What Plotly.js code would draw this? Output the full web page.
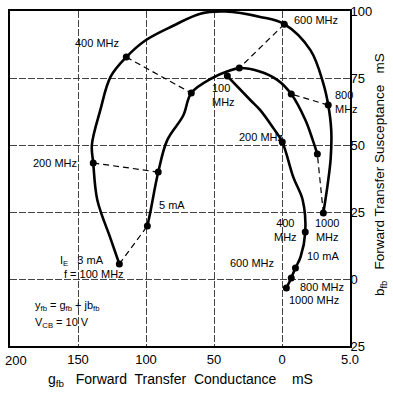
<!DOCTYPE html>
<html><head><meta charset="utf-8">
<script src="https://cdn.plot.ly/plotly-3.0.1.min.js"></script>
<style>html,body{margin:0;padding:0;background:#fff}#c{width:393px;height:393px}</style>
</head><body><div id="c"></div>
<script>
// Frequencies (MHz) of the marked points
const freqs = [100, 200, 400, 600, 800, 1000];
// Marked points, g_fb (mS) and b_fb (mS), for each emitter current
const g3 = [119.6, 138.8, 114.5, -1.7, -34.0, -30.4];
const b3 = [5.6, 43.3, 82.8, 95.1, 64.9, 24.6];
const g5 = [99.0, 91.0, 66.7, 31.4, -6.8, -26.0];
const b5 = [19.8, 39.9, 69.4, 78.7, 69.0, 46.6];
const g10 = [40.2, -0.2, -17.1, -9.9, -6.8, -3.2];
const b10 = [75.7, 51.1, 17.5, 4.1, 0.4, -3.4];
// Curve traces
const c3g = [119.6, 126, 135.8, 138.8, 139.8, 133.6, 126, 114.5, 100.5, 80, 60, 41.7, 16, -1.7, -20.9, -30.3, -34.0, -36.2, -35.8, -33.5, -30.4];
const c3b = [5.6, 15, 29.5, 43.3, 50, 63, 75.5, 82.8, 89, 94.5, 99, 99.8, 97.8, 95.1, 85.4, 73.1, 64.9, 55.6, 45, 35, 24.6];
const c5g = [99.0, 96.8, 91.0, 84.3, 72.6, 66.7, 51.2, 40, 31.4, 17, 3.5, -6.8, -17.2, -22.5, -26.0];
const c5b = [19.8, 25, 39.9, 51.9, 61, 69.4, 75, 77.5, 78.7, 77.5, 74.3, 69.0, 59.3, 52, 46.6];
const c10g = [40.2, 23.3, 16, 6.4, -0.2, -8.3, -15.2, -17.1, -13.7, -9.9, -6.8, -3.2];
const c10b = [75.7, 66.8, 63, 56.3, 51.1, 38, 29.5, 17.5, 8.3, 4.1, 0.4, -3.4];
// Axis ticks
const xTickVals = [200, 150, 100, 50, 0, -50];
const xTickText = ["200", "150", "100", "50", "0", "5.0"];
const yTickVals = [100, 75, 50, 25, 0, -25];
const yTickText = ["100", "75", "50", "25", "0", "25"];

const traces = [];
const solid = {color: '#000', width: 2.6, shape: 'spline', smoothing: 1};
traces.push({x: c3g, y: c3b, mode: 'lines', line: solid, hoverinfo: 'skip'});
traces.push({x: c5g, y: c5b, mode: 'lines', line: solid, hoverinfo: 'skip'});
traces.push({x: c10g, y: c10b, mode: 'lines', line: solid, hoverinfo: 'skip'});
// dashed constant-frequency lines between 3 mA and 5 mA points
for (let i = 0; i < freqs.length; i++) {
  traces.push({x: [g3[i], g5[i]], y: [b3[i], b5[i]], mode: 'lines',
    line: {color: '#000', width: 1.2, dash: '6px,4px'}, hoverinfo: 'skip'});
}
const mk = {color: '#000', size: 7};
traces.push({x: g3, y: b3, mode: 'markers', marker: mk, text: freqs});
traces.push({x: g5, y: b5, mode: 'markers', marker: mk, text: freqs});
traces.push({x: g10, y: b10, mode: 'markers', marker: mk, text: freqs});

const F = 'Liberation Sans, Arial, sans-serif';
function A(x, y, t, o) {
  return Object.assign({x: x, y: y, xref: 'x', yref: 'y', text: t, showarrow: false,
    font: {family: F, size: 11, color: '#000'}, xanchor: 'center', yanchor: 'middle'}, o || {});
}
const ann = [
  A(135.8, 88, '400 MHz'),
  A(166.7, 43.3, '200 MHz'),
  A(-25.2, 96.6, '600 MHz'),
  A(53.3, 68.7, '100<br>MHz', {xanchor: 'left', align: 'left'}),
  A(-37.7, 66, '800<br>MHz', {xanchor: 'left', align: 'left'}),
  A(15.2, 53, '200 MHz'),
  A(80.7, 27.6, '5 mA'),
  A(-33.3, 18.3, '1000<br>MHz'),
  A(-2.4, 18.3, '400<br>MHz'),
  A(-30.4, 8.6, '10 mA'),
  A(21.8, 6, '600 MHz'),
  A(-29.6, -3, '800 MHz'),
  A(-23.8, -7.8, '1000 MHz'),
  A(165, 6.8, 'I<sub>E</sub>   3 mA', {xanchor: 'left'}),
  A(161.5, 1.8, 'f = 100 MHz', {xanchor: 'left'}),
  A(183, -10, 'y<sub>fb</sub> = g<sub>fb</sub> + jb<sub>fb</sub>', {xanchor: 'left'}),
  A(183, -16.3, 'V<sub>CB</sub> = 10 V', {xanchor: 'left'}),
  // leftmost x tick label, placed inside the page edge
  {xref: 'paper', yref: 'paper', x: -0.021, y: -0.014, xanchor: 'left', yanchor: 'top', showarrow: false,
   text: xTickText[0], font: {family: F, size: 13, color: '#000'}},
  {xref: 'paper', yref: 'paper', x: 0.5, y: -0.069, yanchor: 'top', showarrow: false,
   text: 'g<sub>fb</sub>   Forward  Transfer  Conductance    mS', font: {family: F, size: 14, color: '#000'}},
  {xref: 'paper', yref: 'paper', x: 1.088, y: 0.513, xanchor: 'center', yanchor: 'middle', textangle: -90, showarrow: false,
   text: 'b<sub>fb</sub>   Forward Transfer Susceptance   mS', font: {family: F, size: 13.5, color: '#000'}}
];

const layout = {
  width: 393, height: 393,
  margin: {l: 10, r: 43, t: 11, b: 47},
  paper_bgcolor: '#fff', plot_bgcolor: '#fff',
  showlegend: false,
  xaxis: {range: [200, -50], tickvals: xTickVals, ticktext: [''].concat(xTickText.slice(1)),
    showgrid: true, gridcolor: '#444', gridwidth: 1, griddash: '7px,2px',
    zeroline: false, showline: true, linecolor: '#000', linewidth: 2, mirror: true,
    ticks: '', tickfont: {family: F, size: 13, color: '#000'}, fixedrange: true},
  yaxis: {range: [-25, 100], side: 'right', tickvals: yTickVals, ticktext: yTickText,
    ticklabelstandoff: -4,
    showgrid: true, gridcolor: '#444', gridwidth: 1, griddash: '7px,2px',
    zeroline: false, showline: true, linecolor: '#000', linewidth: 2, mirror: true,
    ticks: '', tickfont: {family: F, size: 13, color: '#000'}, fixedrange: true},
  annotations: ann
};
Plotly.newPlot('c', traces, layout, {staticPlot: true, displayModeBar: false});
</script></body></html>
